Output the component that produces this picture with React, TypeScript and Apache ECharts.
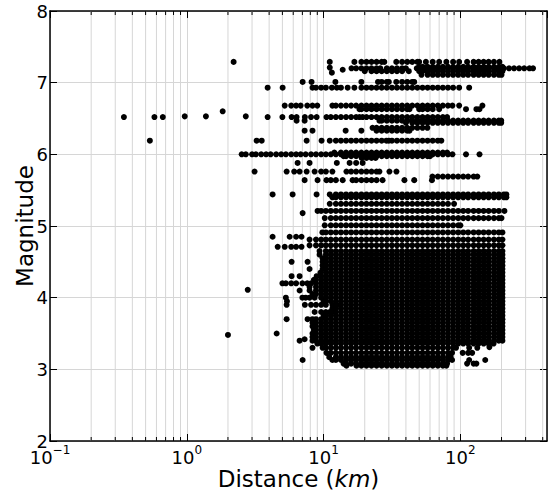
import React, { useEffect, useRef } from "react";
import * as echarts from "echarts";

const X_MIN = 0.1;
const X_MAX = 430;
const Y_MIN = 2;
const Y_MAX = 8;
const Y_INTERVAL = 1;
const MINOR_X = [0.2, 0.3, 0.4, 0.5, 0.6, 0.7, 0.8, 0.9, 2, 3, 4, 5, 6, 7, 8, 9, 20, 30, 40, 50, 60, 70, 80, 90, 200, 300, 400];

// distances (km) at which the densely packed event rows are drawn
const DIST_GRID = [
  2.5, 2.7, 3.0, 3.2, 3.5, 3.8, 4.1, 4.5, 4.9, 5.3, 5.8, 6.3, 6.8, 7.4, 8.1, 8.8, 9.6, 10.4, 11.3, 12.3,
  13.4, 14.6, 15.9, 17.3, 18.9, 20.6, 22.4, 24.4, 26.6, 29, 31.6, 34.4, 37.5, 40.9, 44.5, 48.5, 52.9, 57.6,
  62.8, 68.4, 74.5, 81.2, 88.5, 96.4, 105, 114, 125, 136, 148, 161, 176, 191, 208, 227, 247, 269, 293, 320,
];

// dense rows of events: [magnitude, from distance, to distance]
const RUNS: [number, number, number][] = [
  [7.29, 16.8, 27.8], [7.29, 34, 50], [7.29, 56, 70], [7.29, 79, 98], [7.29, 112, 193],
  [7.22, 50, 203],
  [7.2, 16, 24.4], [7.2, 26, 40], [7.2, 48, 340],
  [7.16, 20, 42], [7.16, 50, 203],
  [7.11, 52, 200],
  [7.01, 25, 30], [7.01, 34, 46],
  [6.93, 8.3, 11.5], [6.93, 12.5, 15], [6.93, 16.8, 98],
  [6.68, 5.2, 7.6], [6.68, 8.3, 9], [6.68, 11.6, 87.5],
  [6.63, 18.3, 42.5], [6.63, 50, 70], [6.63, 131, 138],
  [6.52, 7.3, 8.9], [6.52, 10.5, 18.3], [6.52, 19.3, 80],
  [6.47, 25.6, 199],
  [6.44, 40, 199],
  [6.37, 22.8, 57.4],
  [6.33, 24.4, 42.5],
  [6.19, 11.1, 28.8], [6.19, 30, 72.6],
  [6.0, 2.52, 87.5],
  [6.025, 12, 80],
  [5.975, 14, 60],
  [5.95, 19, 24],
  [5.88, 15.5, 19.3],
  [5.76, 8.6, 11.6], [5.76, 14.7, 25.6],
  [5.69, 62.5, 133],
  [5.64, 10.5, 13.8], [5.64, 16.3, 27],
  [5.44, 11.1, 217],
  [5.4, 11.6, 217],
  [5.31, 11.1, 90],
  [5.21, 9.04, 210],
  [5.11, 10.2, 200],
  [5.01, 10.2, 100],
  [4.91, 9.8, 203],
  [4.81, 7.9, 203],
  [4.85, 5.65, 6.9],
  [4.73, 7.9, 203],
  [4.71, 5.2, 6.9],
  [4.65, 9.35, 203], [4.6, 9.35, 203], [4.55, 9.84, 203], [4.5, 9.84, 203], [4.45, 9.84, 203],
  [4.4, 9.84, 203], [4.35, 9.5, 203], [4.3, 8.9, 203], [4.25, 8.5, 203],
  [4.2, 5.0, 7.0], [4.2, 7.6, 203], [4.15, 7.9, 203], [4.1, 7.9, 203], [4.05, 8.3, 203],
  [4.0, 7.0, 7.9], [4.0, 8.6, 203], [3.95, 10, 203],
  [3.9, 7.3, 11.6], [3.9, 12.5, 203], [3.85, 11.6, 203],
  [3.8, 8.6, 11.1], [3.8, 11.6, 203], [3.75, 10, 203],
  [3.7, 8.3, 203], [3.65, 8.3, 203], [3.6, 8.3, 203], [3.55, 8.5, 203], [3.5, 8.3, 203],
  [3.45, 8.3, 203], [3.4, 8.3, 203],
  [3.36, 9, 175],
  [3.3, 9.84, 93],
  [3.23, 10.5, 87], [3.23, 104, 122],
  [3.17, 11, 85],
  [3.13, 11.6, 87],
  [3.08, 14, 80], [3.08, 112, 131],
  [3.05, 17.4, 79],
];

// isolated events: [distance, magnitude]
const SINGLES: [number, number][] = [
  [0.347, 6.52], [0.537, 6.19], [0.58, 6.52], [0.668, 6.52], [0.966, 6.53], [1.38, 6.53], [1.83, 6.6],
  [2.0, 3.48], [2.2, 7.29], [2.7, 6.53], [2.79, 4.11], [3.9, 6.93], [5.02, 6.93], [3.9, 6.52], [5.0, 6.52],
  [5.84, 6.52], [6.35, 6.52],
  [11.1, 7.29], [11.1, 7.21], [13.8, 7.18], [11.5, 7.14], [7.03, 7.01], [8.17, 7.01], [12.2, 7.01], [18.9, 7.01],
  [116, 6.93], [98, 6.68], [145, 6.68], [110, 6.63], [6.35, 6.47], [7.27, 6.47], [7.27, 6.33], [8.3, 6.33],
  [14.5, 6.33], [18.9, 6.33], [3.24, 6.19], [3.53, 6.19], [7.52, 6.19], [9.67, 6.19], [110, 6.0], [138, 6.0],
  [6.46, 5.88], [7.9, 5.88], [12.5, 5.88], [3.13, 5.76], [5.37, 5.76], [6.1, 5.76], [6.68, 5.76], [7.52, 5.76],
  [30.3, 5.76], [34.1, 5.76], [7.27, 5.64], [9.04, 5.64], [39, 5.64], [46, 5.64], [62, 5.64],
  [4.24, 5.44], [5.94, 5.44], [8.89, 5.44], [7.03, 5.18], [4.24, 4.85], [4.62, 4.71],
  [5.84, 4.5], [7.64, 4.5], [7.9, 4.4], [5.84, 4.3], [6.68, 4.3], [6.68, 4.1], [5.3, 4.0], [5.4, 3.95],
  [5.37, 3.9], [5.37, 3.7], [7.64, 3.7], [4.54, 3.5], [6.68, 3.4], [7.27, 3.42], [8.3, 3.3],
  [116, 3.3], [133, 3.3], [163, 3.31], [7.03, 3.13], [116, 3.13], [152, 3.13], [14.7, 3.05],
];

const FONT = "DejaVu Sans";
const GRID_COLOR = "#d6d6d6";

function buildPoints(): [number, number][] {
  const pts: [number, number][] = [];
  for (const [m, a, b] of RUNS) {
    pts.push([a, m]);
    for (const d of DIST_GRID) {
      if (d > a * 1.03 && d < b / 1.03) pts.push([d, m]);
    }
    if (b !== a) pts.push([b, m]);
  }
  for (const p of SINGLES) pts.push(p);
  return pts;
}

export default function App() {
  const ref = useRef<HTMLDivElement>(null);
  useEffect(() => {
    if (!ref.current) return;
    const chart = echarts.init(ref.current, undefined, { renderer: "svg" });
    const axisLine = { show: true, onZero: false, lineStyle: { color: "#000", width: 1.5 } };
    const logFormatter = (v: number) => {
      const e = Math.log10(v);
      const r = Math.round(e);
      if (Math.abs(e - r) > 1e-6) return "";
      return "{b|10}{s|" + (r < 0 ? "\u2212" + -r : String(r)) + "}";
    };
    const option: any = {
      animation: false,
      backgroundColor: "#fff",
      grid: { left: 50, right: 1, top: 11, bottom: 51, containLabel: false, outerBoundsMode: "none" },
      xAxis: [
        {
          type: "log",
          logBase: 10,
          min: X_MIN,
          max: X_MAX,
          position: "bottom",
          name: "{t|Distance (}{i|km}{t|)}",
          nameLocation: "middle",
          nameGap: 26,
          nameMoveOverlap: false,
          nameTextStyle: {
            rich: {
              t: { fontSize: 23, fontFamily: FONT, color: "#000" },
              i: { fontSize: 23, fontFamily: FONT, fontStyle: "italic", color: "#000" },
            },
          },
          axisLine,
          axisTick: { show: true, inside: true, length: 7, lineStyle: { color: "#000", width: 1 } },
          axisLabel: {
            margin: 3,
            showMaxLabel: false,
            formatter: logFormatter,
            rich: {
              b: { fontSize: 18, fontFamily: FONT, color: "#000", lineHeight: 22, verticalAlign: "bottom" },
              s: { fontSize: 12, fontFamily: FONT, color: "#000", lineHeight: 12, verticalAlign: "top" },
            },
          },
          splitLine: { show: true, lineStyle: { color: GRID_COLOR, width: 1 } },
        },
        {
          type: "log",
          logBase: 10,
          min: X_MIN,
          max: X_MAX,
          position: "top",
          axisLine,
          axisTick: { show: true, inside: true, length: 7, lineStyle: { color: "#000", width: 1 } },
          axisLabel: { show: false },
          splitLine: { show: false },
        },
      ],
      yAxis: [
        {
          type: "value",
          min: Y_MIN,
          max: Y_MAX,
          interval: Y_INTERVAL,
          position: "left",
          name: "Magnitude",
          nameLocation: "middle",
          nameGap: 14,
          nameMoveOverlap: false,
          nameTextStyle: { fontSize: 23, fontFamily: FONT, color: "#000" },
          axisLine,
          axisTick: { show: true, inside: true, length: 7, lineStyle: { color: "#000", width: 1 } },
          axisLabel: { margin: 2, fontSize: 18, fontFamily: FONT, color: "#000" },
          splitLine: { show: true, lineStyle: { color: GRID_COLOR, width: 1 } },
        },
        {
          type: "value",
          min: Y_MIN,
          max: Y_MAX,
          interval: Y_INTERVAL,
          position: "right",
          axisLine,
          axisTick: { show: true, inside: true, length: 7, lineStyle: { color: "#000", width: 1 } },
          axisLabel: { show: false },
          splitLine: { show: false },
        },
      ],
      series: [
        {
          type: "custom",
          xAxisIndex: 0,
          yAxisIndex: 0,
          silent: true,
          z: 1,
          clip: false,
          data: MINOR_X.map((v) => [v, Y_MIN]),
          encode: { x: 0, y: 1 },
          renderItem: (_params: any, api: any) => {
            const v = api.value(0);
            const bot = api.coord([v, Y_MIN]);
            const top = api.coord([v, Y_MAX]);
            return {
              type: "group",
              children: [
                { type: "line", shape: { x1: bot[0], y1: bot[1], x2: top[0], y2: top[1] }, style: { stroke: GRID_COLOR, lineWidth: 1 } },
                { type: "line", shape: { x1: bot[0], y1: bot[1], x2: bot[0], y2: bot[1] - 4 }, style: { stroke: "#000", lineWidth: 1 } },
                { type: "line", shape: { x1: top[0], y1: top[1], x2: top[0], y2: top[1] + 4 }, style: { stroke: "#000", lineWidth: 1 } },
              ],
            };
          },
        },
        {
          type: "scatter",
          xAxisIndex: 0,
          yAxisIndex: 0,
          z: 2,
          symbol: "circle",
          symbolSize: 6,
          itemStyle: { color: "#000", opacity: 1, borderWidth: 0 },
          data: buildPoints(),
        },
      ],
    };
    chart.setOption(option);
    return () => chart.dispose();
  }, []);
  return <div ref={ref} style={{ position: "fixed", left: 0, top: 0, width: 548, height: 492 }} />;
}
